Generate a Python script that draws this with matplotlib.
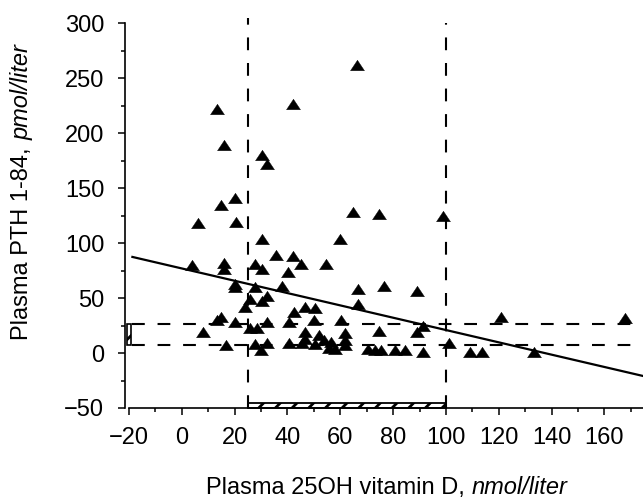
import matplotlib
matplotlib.use('Agg')
import matplotlib.pyplot as plt
from matplotlib.patches import Rectangle
import numpy as np

plt.rcParams['font.family'] = ['Liberation Sans', 'DejaVu Sans']
plt.rcParams['lines.scale_dashes'] = False
plt.rcParams['hatch.linewidth'] = 2.0

# ---- data ----
vitd = [13.2, 42.0, 15.9, 30.2, 32.1, 66.3, 20.0, 14.7, 6.1, 20.5, 30.4, 64.7, 74.5, 98.9, 60.0,
        35.5, 42.1, 45.3, 54.7, 40.1, 3.7, 16.0, 16.0, 27.6, 30.4,
        20.3, 20.3, 27.9, 37.8, 66.6, 76.5, 88.9,
        32.3, 26.0, 30.4, 66.7, 24.1, 46.6, 50.3, 42.4,
        14.7, 13.4, 20.3, 32.3, 40.5, 50.2, 60.3, 26.0, 28.3, 8.1, 16.8,
        27.9, 29.8, 32.3, 40.5, 45.6, 74.8, 91.2, 89.0,
        46.8, 46.8, 51.8, 53.7, 56.3, 55.6, 58.1, 50.6, 61.9, 61.9, 61.9,
        70.4, 73.3, 75.4, 80.8, 84.6, 91.2, 101.0, 109.0, 113.6, 120.7, 133.4, 167.6]
pth = [222, 226, 189, 180, 172, 262, 141, 135, 118, 119, 104, 128, 126, 125, 104,
       89, 88, 81, 81, 74, 80, 82, 76, 81, 76,
       63, 60, 60, 61, 58, 61, 56,
       52, 49, 47, 45, 42, 42, 41, 37,
       33, 30, 28.5, 28.5, 28, 30, 30, 23, 23, 19.4, 7,
       8.5, 3, 9, 9, 9, 20.3, 24.7, 19,
       19, 13, 16.5, 11.5, 10, 4.5, 3.3, 8, 18, 12, 7.3,
       4, 2.5, 2.7, 2.5, 2.5, 1, 9.5, 1.2, 1.2, 33, 1.2, 31.5]

reg_intercept = 76.9
reg_slope = -0.56
reg_x = [-18.7, 176.0]

vitd_cutoffs = [25, 100]
vitd_cutoff_tops = [305, 300]
pth_range = [7.5, 26.5]

xticks = list(range(-20, 161, 20))
yticks = list(range(-50, 301, 50))

xlabel_parts = ['Plasma 25OH vitamin D, ', 'nmol/liter']
ylabel_parts = ['Plasma PTH 1-84, ', 'pmol/liter']

XMIN, XMAX = -21.5, 174.6
YMIN, YMAX = -50, 321

W, H = 643, 499
fig = plt.figure(figsize=(W / 100, H / 100), dpi=100)
ax = fig.add_axes([125 / W, 91 / H, 518 / W, 408 / H])
ax.set_xlim(XMIN, XMAX)
ax.set_ylim(YMIN, YMAX)

dash = (0, (9.2, 9.2))

# vertical cut-off lines
for xc, top in zip(vitd_cutoffs, vitd_cutoff_tops):
    ax.plot([xc, xc], [YMIN, top], color='black', lw=1.5, ls=dash, zorder=2)

# horizontal reference range lines
for yr in pth_range:
    ax.plot([-19.0, XMAX], [yr, yr], color='black', lw=1.5, ls=dash, zorder=2)

# small hatched bar along the y axis
ax.add_patch(Rectangle((-20.7, pth_range[0]), 1.6, pth_range[1] - pth_range[0],
                       hatch='//', fill=False, edgecolor='black', lw=1.2, zorder=3,
                       clip_on=False))

# hatched bar along the x axis
ax.add_patch(Rectangle((vitd_cutoffs[0], YMIN), vitd_cutoffs[1] - vitd_cutoffs[0], 4.3,
                       hatch='//', fill=False, edgecolor='black', lw=1.3, zorder=3,
                       clip_on=False))

# regression line
rx = np.array(reg_x)
ax.plot(rx, reg_intercept + reg_slope * rx, color='black', lw=1.6, zorder=4)

# triangles
tri = [(0, 0.75), (-1, -0.75), (1, -0.75), (0, 0.75)]
ax.plot(vitd, pth, ls='none', marker=tri, ms=10, color='black', mew=0.3, zorder=5)

# axes styling
for s in ['top', 'right']:
    ax.spines[s].set_visible(False)
ax.spines['left'].set_bounds(-50, 300)
ax.spines['bottom'].set_bounds(-20, XMAX)
ax.spines['left'].set_linewidth(1.2)
ax.spines['bottom'].set_linewidth(1.2)

ax.set_xticks(xticks)
ax.set_xticks(list(range(-10, 175, 20)), minor=True)
ax.set_yticks(yticks)
ax.set_yticks(list(range(-25, 301, 50)), minor=True)
ax.set_xticklabels([str(t).replace('-', '\u2212') for t in xticks])
ax.set_yticklabels([str(t).replace('-', '\u2212') for t in yticks])
ax.tick_params(which='major', direction='out', length=5, width=1.1, labelsize=17)
ax.tick_params(which='minor', direction='out', length=3, width=1.1)
ax.tick_params(axis='x', which='major', pad=9)
ax.tick_params(axis='y', which='major', pad=10)

# axis labels: normal part + italic unit part
renderer = fig.canvas.get_renderer()
FS = 17

# x label centred at pixel x=387, y=488 (from top)
t1 = fig.text(0, 0, xlabel_parts[0], fontsize=FS, ha='left', va='center')
t2 = fig.text(0, 0, xlabel_parts[1], fontsize=FS, ha='left', va='center', style='italic')
w1 = t1.get_window_extent(renderer).width
w2 = t2.get_window_extent(renderer).width
x0 = 387 - (w1 + w2) / 2
yc = H - 488
t1.set_position((x0 / W, yc / H))
t2.set_position(((x0 + w1) / W, yc / H))

# y label centred at pixel x=22, y=192 (from top), rotated
s1 = fig.text(0, 0, ylabel_parts[0], fontsize=FS, ha='center', va='bottom', rotation=90)
s2 = fig.text(0, 0, ylabel_parts[1], fontsize=FS, ha='center', va='bottom', rotation=90,
              style='italic')
h1 = s1.get_window_extent(renderer).height
h2 = s2.get_window_extent(renderer).height
ybot = (H - 192) - (h1 + h2) / 2
s1.set_position((22 / W, ybot / H))
s2.set_position((22 / W, (ybot + h1) / H))

fig.savefig('out.png', dpi=100)
